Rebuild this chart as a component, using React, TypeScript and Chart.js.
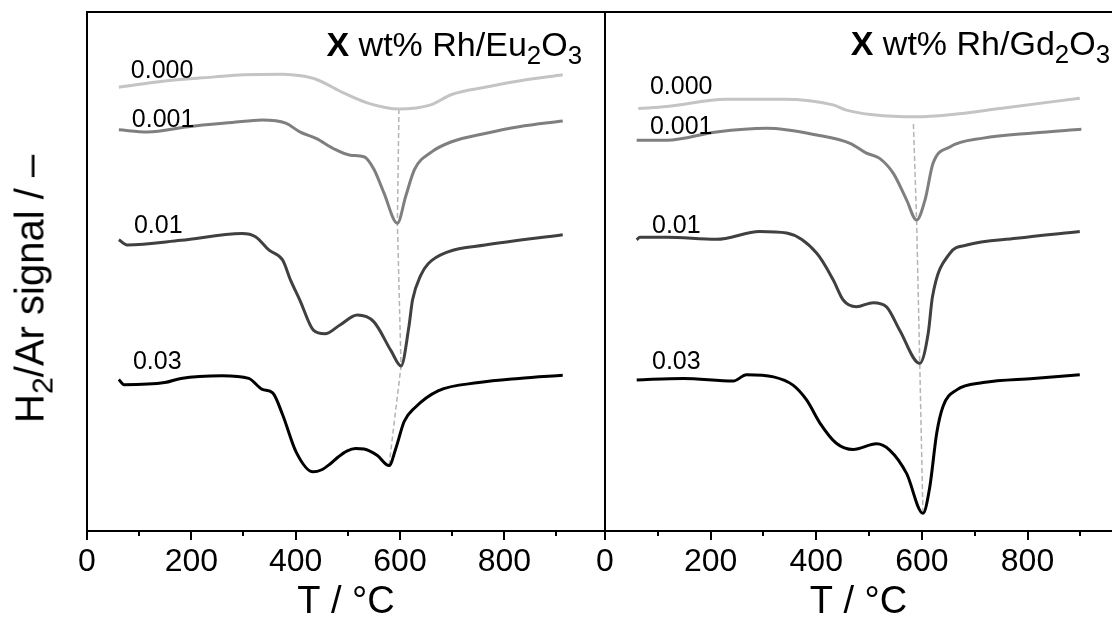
import React, { useEffect, useRef } from 'react';
import { Chart, registerables } from 'chart.js';

Chart.register(...registerables);

const FONT = '"Liberation Sans", Arial, Helvetica, sans-serif';

// ---- Series labels (Rh loading, wt%) ----
const LOADINGS = ['0.000', '0.001', '0.01', '0.03'];

// ---- Rh/Eu2O3 panel: temperature (°C) and H2/Ar signal (a.u.) ----
const EU_T_000 = [61, 149, 245, 300, 375, 410, 440, 492, 537, 598, 659, 699, 763, 828, 912];
const EU_V_000 = [85.5, 86.7, 87.5, 87.9, 88.0, 87.7, 87.0, 84.4, 82.5, 81.3, 82.1, 84.1, 85.5, 86.7, 87.9];

const EU_T_001 = [61, 116, 194, 278, 336, 381, 408, 440, 472, 505, 531, 550, 569, 595, 611, 628, 660, 699, 763, 828, 912];
const EU_V_001 = [77.3, 76.9, 77.9, 78.7, 79.2, 78.6, 76.9, 75.6, 73.7, 72.4, 72.1, 69.7, 65.2, 59.3, 64.5, 69.7, 73.0, 75.0, 76.6, 77.9, 79.0];

const EU_T_01 = [61, 77, 180, 297, 323, 349, 375, 390, 408, 434, 456, 485, 518, 550, 583, 602, 617, 624, 640, 654, 692, 763, 912];
const EU_V_01 = [56.1, 55.1, 56.0, 57.3, 56.7, 54.1, 52.2, 48.4, 44.5, 38.7, 38.0, 39.7, 41.6, 40.3, 34.7, 31.8, 39.3, 44.5, 49.3, 51.5, 53.8, 55.1, 57.1];

const EU_T_03 = [61, 71, 149, 180, 259, 310, 336, 356, 375, 401, 433, 450, 466, 482, 498, 515, 531, 556, 579, 592, 608, 628, 673, 751, 828, 912];
const EU_V_03 = [29.2, 28.2, 28.6, 29.4, 29.9, 29.4, 27.3, 26.6, 22.4, 15.2, 11.4, 11.8, 12.9, 14.3, 15.4, 15.9, 15.8, 14.6, 12.6, 15.9, 21.1, 23.7, 27.0, 28.6, 29.4, 30.0];

// peak-maximum guide line (Eu2O3)
const EU_PEAK_T = [598, 595, 602, 579];
const EU_PEAK_V = [81.3, 59.3, 31.8, 12.6];

// label anchors (data units) for Eu2O3
const EU_LABEL_T = [84, 86, 90, 88];
const EU_LABEL_V = [87.3, 77.8, 57.4, 31.2];

// ---- Rh/Gd2O3 panel ----
const GD_T_000 = [63, 117, 230, 337, 432, 457, 508, 590, 653, 748, 899];
const GD_V_000 = [81.4, 81.8, 83.2, 83.2, 82.1, 81.1, 80.2, 79.8, 80.2, 81.4, 83.4];

const GD_T_001 = [60, 117, 211, 306, 401, 464, 495, 520, 546, 571, 590, 606, 621, 653, 716, 811, 902];
const GD_V_001 = [75.3, 75.3, 76.9, 77.6, 76.3, 74.7, 72.8, 71.8, 68.9, 63.8, 59.9, 63.8, 70.8, 74.0, 75.7, 76.7, 77.4];

const GD_T_01 = [60, 66, 117, 211, 293, 344, 401, 432, 451, 476, 508, 533, 558, 596, 612, 620, 653, 685, 779, 899];
const GD_V_01 = [56.1, 56.6, 56.6, 56.2, 57.7, 57.4, 53.5, 48.4, 44.5, 43.2, 44.0, 43.2, 38.7, 32.3, 38.1, 45.1, 53.5, 55.1, 56.4, 57.7];

const GD_T_03 = [60, 148, 243, 268, 319, 356, 382, 407, 438, 470, 514, 539, 571, 602, 615, 628, 640, 666, 716, 811, 899];
const GD_V_03 = [29.1, 29.4, 28.9, 30.1, 29.7, 28.1, 25.2, 20.8, 16.9, 15.7, 16.8, 15.6, 11.1, 3.4, 8.5, 18.8, 24.0, 27.2, 28.6, 29.4, 30.1];

const GD_PEAK_T = [584, 590, 596, 602];
const GD_PEAK_V = [78.4, 59.9, 32.3, 3.4];

const GD_LABEL_T = [85, 85, 89, 89];
const GD_LABEL_V = [84.2, 76.5, 57.4, 31.2];

// axis
const X_TITLE = 'T / °C';
const X_MAJOR_TICKS = [0, 200, 400, 600, 800];
const X_MINOR_TICKS = [100, 300, 500, 700, 900];

const COLORS = ['#c4c4c4', '#7f7f7f', '#404040', '#000000'];

function pts(t: number[], v: number[]) {
  return t.map((x, i) => ({ x, y: v[i] }));
}

const decorPlugin = {
  id: 'panelDecor',
  afterDraw(chart: any, _args: any, opts: any) {
    const { ctx, chartArea: a, scales } = chart;
    const x = scales.x;
    const y = scales.y;
    ctx.save();
    ctx.strokeStyle = '#000';
    ctx.lineWidth = 2;
    ctx.beginPath();
    ctx.moveTo(a.left - 1, a.top);
    ctx.lineTo(a.right + 1, a.top);
    if (opts.frameRight) {
      ctx.moveTo(a.right, a.top);
      ctx.lineTo(a.right, a.bottom);
    }
    ctx.stroke();
    // minor ticks
    ctx.beginPath();
    X_MINOR_TICKS.forEach((t) => {
      if (t > x.max) return;
      const px = Math.round(x.getPixelForValue(t));
      ctx.moveTo(px, a.bottom);
      ctx.lineTo(px, a.bottom + 5);
    });
    ctx.stroke();
    // series labels
    ctx.fillStyle = '#000';
    ctx.font = `25px ${FONT}`;
    ctx.textAlign = 'left';
    ctx.textBaseline = 'alphabetic';
    LOADINGS.forEach((txt, i) => {
      ctx.fillText(txt, x.getPixelForValue(opts.labelT[i]), y.getPixelForValue(opts.labelV[i]));
    });
    ctx.restore();
  },
};

function makeChart(canvas: HTMLCanvasElement, cfg: any) {
  const datasets: any[] = cfg.series.map((s: any, i: number) => ({
    data: pts(s[0], s[1]),
    borderColor: COLORS[i],
    borderWidth: 3,
    pointRadius: 0,
    cubicInterpolationMode: 'monotone',
    fill: false,
    order: 1,
  }));
  datasets.push({
    data: pts(cfg.peak[0], cfg.peak[1]),
    borderColor: '#b4b4b4',
    borderWidth: 1.5,
    borderDash: [5, 3],
    pointRadius: 0,
    tension: 0,
    fill: false,
    order: 5,
  });
  return new Chart(canvas, {
    type: 'line',
    data: { datasets },
    options: {
      responsive: false,
      animation: false,
      devicePixelRatio: 1,
      events: [],
      layout: { padding: { top: 12, right: cfg.padRight, left: 0, bottom: 0 } },
      plugins: {
        legend: { display: false },
        tooltip: { enabled: false },
        panelDecor: { frameRight: cfg.frameRight, labelT: cfg.labelT, labelV: cfg.labelV },
      } as any,
      scales: {
        x: {
          type: 'linear',
          min: 0,
          max: cfg.xMax,
          afterBuildTicks: (s: any) => {
            s.ticks = X_MAJOR_TICKS.map((value) => ({ value }));
          },
          afterFit: (s: any) => {
            s.height = 94;
          },
          ticks: {
            autoSkip: false,
            maxRotation: 0,
            color: '#000',
            padding: 3,
            font: { family: FONT, size: 32 },
          },
          grid: { drawOnChartArea: false, drawTicks: true, tickLength: 9, color: '#000', lineWidth: 2 },
          border: { display: true, color: '#000', width: 2 },
          title: {
            display: true,
            text: X_TITLE,
            color: '#000',
            font: { family: FONT, size: 38 },
            padding: { top: 0, bottom: 0 },
          },
        },
        y: {
          min: 0,
          max: 100,
          afterFit: (s: any) => {
            s.width = cfg.yWidth;
          },
          ticks: { display: false },
          grid: { display: false },
          border: { display: true, color: '#000', width: 2 },
        },
      },
    } as any,
    plugins: [decorPlugin],
  });
}

const subStyle: React.CSSProperties = { fontSize: '0.76em', position: 'relative', top: '0.3em' };

export default function App() {
  const leftRef = useRef<HTMLCanvasElement>(null);
  const rightRef = useRef<HTMLCanvasElement>(null);

  useEffect(() => {
    const c1 = makeChart(leftRef.current!, {
      series: [
        [EU_T_000, EU_V_000],
        [EU_T_001, EU_V_001],
        [EU_T_01, EU_V_01],
        [EU_T_03, EU_V_03],
      ],
      peak: [EU_PEAK_T, EU_PEAK_V],
      labelT: EU_LABEL_T,
      labelV: EU_LABEL_V,
      xMax: 993,
      yWidth: 87,
      padRight: 1,
      frameRight: true,
    });
    const c2 = makeChart(rightRef.current!, {
      series: [
        [GD_T_000, GD_V_000],
        [GD_T_001, GD_V_001],
        [GD_T_01, GD_V_01],
        [GD_T_03, GD_V_03],
      ],
      peak: [GD_PEAK_T, GD_PEAK_V],
      labelT: GD_LABEL_T,
      labelV: GD_LABEL_V,
      xMax: 960,
      yWidth: 85,
      padRight: 0,
      frameRight: false,
    });
    return () => {
      c1.destroy();
      c2.destroy();
    };
  }, []);

  const titleBase: React.CSSProperties = {
    position: 'absolute',
    fontFamily: FONT,
    fontSize: 34,
    lineHeight: '34px',
    whiteSpace: 'nowrap',
    color: '#000',
  };

  return (
    <div
      style={{
        position: 'absolute',
        left: 0,
        top: 0,
        width: 1112,
        height: 625,
        overflow: 'hidden',
        background: '#fff',
      }}
    >
      <canvas ref={leftRef} width={606} height={625} style={{ position: 'absolute', left: 0, top: 0 }} />
      <canvas ref={rightRef} width={592} height={625} style={{ position: 'absolute', left: 520, top: 0 }} />
      <div style={{ ...titleBase, right: 530, top: 27 }}>
        <b>X</b> wt% Rh/Eu<span style={subStyle}>2</span>O<span style={subStyle}>3</span>
      </div>
      <div style={{ ...titleBase, right: 2, top: 26 }}>
        <b>X</b> wt% Rh/Gd<span style={subStyle}>2</span>O<span style={subStyle}>3</span>
      </div>
      <div
        style={{
          position: 'absolute',
          left: 31,
          top: 289,
          transform: 'translate(-50%, -50%) rotate(-90deg)',
          fontFamily: FONT,
          fontSize: 40,
          lineHeight: '46px',
          whiteSpace: 'nowrap',
          color: '#000',
        }}
      >
        H<span style={subStyle}>2</span>/Ar signal / –
      </div>
    </div>
  );
}
